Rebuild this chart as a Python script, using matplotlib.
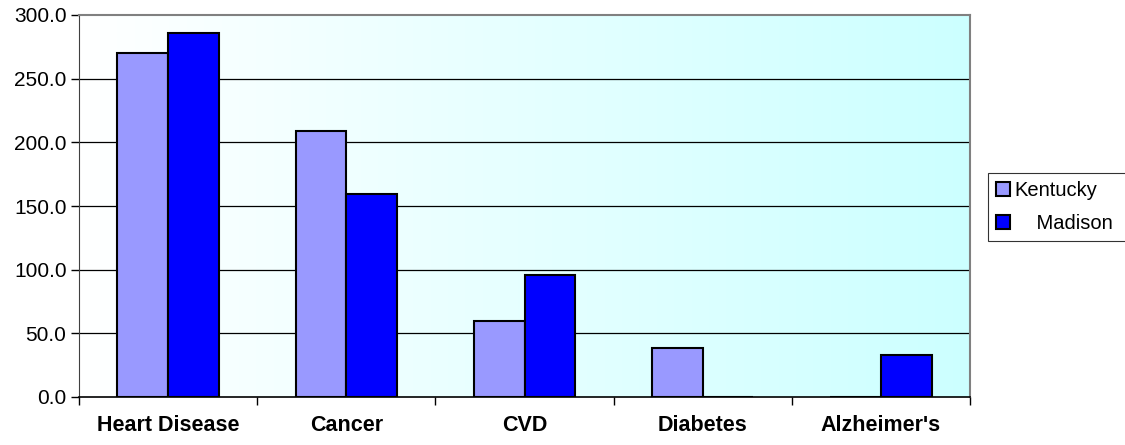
import numpy as np
import matplotlib
matplotlib.use("Agg")
import matplotlib.pyplot as plt
from matplotlib.colors import LinearSegmentedColormap

plt.rcParams['font.family'] = ['Liberation Sans', 'DejaVu Sans']

categories = ["Heart Disease", "Cancer", "CVD", "Diabetes", "Alzheimer's"]
kentucky = [270.2, 209.0, 59.7, 38.6, 0.0]
madison = [286.0, 159.3, 95.8, 0.0, 32.8]
yticks = [0, 50, 100, 150, 200, 250, 300]

fig = plt.figure(figsize=(11.25, 4.45), dpi=100)
ax = fig.add_axes([79 / 1125, 48 / 445, 891 / 1125, 382 / 445])

# gradient background, white to pale cyan
grad = LinearSegmentedColormap.from_list("bg", ["#ffffff", "#ccffff"])
ax.imshow(np.linspace(0, 1, 256).reshape(1, -1), cmap=grad, aspect='auto',
          extent=[-0.5, len(categories) - 0.5, 0, 300], zorder=0)

for y in yticks[1:-1]:
    ax.axhline(y, color='black', linewidth=0.9, zorder=1)

x = np.arange(len(categories))
w = 0.285
ax.bar(x - w / 2, kentucky, w, color='#9999ff', edgecolor='black', linewidth=1.5,
       label='Kentucky', zorder=2)
ax.bar(x + w / 2, madison, w, color='#0000ff', edgecolor='black', linewidth=1.5,
       label='    Madison', zorder=2)

ax.set_xlim(-0.5, len(categories) - 0.5)
ax.set_ylim(0, 300)
ax.set_yticks(yticks)
ax.set_yticklabels(["%.1f" % v for v in yticks], fontsize=15)
ax.tick_params(axis='y', length=6, width=1, direction='out', pad=3)

ax.set_xticks(x)
ax.set_xticklabels(categories, fontsize=15.5, fontweight='bold')
ax.tick_params(axis='x', length=0, pad=13)
ax.set_xticks(np.arange(-0.5, len(categories)), minor=True)
ax.tick_params(axis='x', which='minor', length=6, width=1, direction='out')

for s in ['top', 'right']:
    ax.spines[s].set_color('#808080')
    ax.spines[s].set_linewidth(1.5)
ax.spines['left'].set_color('#404040')
ax.spines['bottom'].set_color('black')
ax.spines['bottom'].set_linewidth(1.2)

leg = fig.legend(loc='upper left', bbox_to_anchor=(988 / 1125, 1 - 173 / 445),
                 fontsize=14.5, frameon=True, fancybox=False, edgecolor='black',
                 handlelength=0.7, handleheight=0.7, handletextpad=0.2,
                 borderpad=0.4, labelspacing=0.7, borderaxespad=0)
leg.get_frame().set_linewidth(0.8)
leg.texts[1].set_text('    Madison  ')

fig.savefig("out.png", dpi=100, facecolor='white')
